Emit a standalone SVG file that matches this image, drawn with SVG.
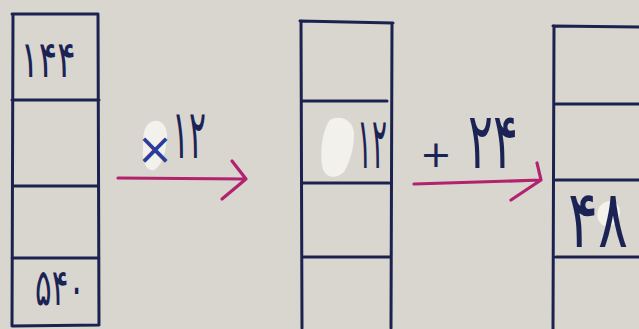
<svg xmlns="http://www.w3.org/2000/svg" width="639" height="329" viewBox="0 0 639 329">
<style>
.frame{fill:none;stroke:#1c2250;stroke-width:3;stroke-linecap:round;stroke-linejoin:round}
.arrow{fill:none;stroke:#b2226e;stroke-width:3.2;stroke-linecap:round;stroke-linejoin:round}
.num{font-family:"DejaVu Sans",sans-serif;fill:#1b2354;font-size:32px;text-anchor:middle}
.blob{fill:#f3f1ec}
</style>
<rect width="639" height="329" fill="#d8d6cf"/>
<g id="column-a">
  <path class="frame" d="M12,14 L98,14 M13,14 L12,326 M98,14 L99,325 M12,326 L99,325 M12,100 L99,100 M13,186 L98,186 M12,258 L99,258"/>
  <text class="num" transform="translate(48,77) scale(1,1.6)" textLength="55" lengthAdjust="spacingAndGlyphs">۱۴۴</text>
  <text class="num" transform="translate(60,305) scale(1,1.6)" textLength="50" lengthAdjust="spacingAndGlyphs">۵۴۰</text>
</g>
<g id="column-b">
  <path class="frame" d="M300,21 L393,23 M301,21 L302,328 M392,23 L391,328 M302,101 L387,101 M302,183 L389,183 M304,257 L390,257"/>
  <path class="blob" d="M330,120 C340,114 354,120 354,134 C354,148 350,162 344,172 C336,180 324,178 322,166 C320,152 322,130 330,120 Z"/>
  <text class="num" transform="translate(372,168) scale(1,2.25)" textLength="30" lengthAdjust="spacingAndGlyphs">۱۲</text>
</g>
<g id="column-c">
  <path class="frame" d="M553,26 L639,27 M554,26 L553,329 M556,104 L639,104 M556,180 L639,180 M556,257 L639,257"/>
  <path class="blob" d="M600,206 C606,198 620,200 620,212 C620,222 612,228 604,226 C596,222 596,212 600,206 Z"/>
  <text class="num" transform="translate(598,247) scale(1,2.5)" textLength="60" lengthAdjust="spacingAndGlyphs">۴۸</text>
</g>
<g id="connectors">
  <g id="arrow-1">
    <path class="arrow" d="M118,178 L246,179 M232,161 L246,179 L222,199"/>
    <path class="blob" d="M148,124 C158,116 168,124 167,138 C166,152 162,166 154,170 C146,172 142,160 143,148 C143,138 143,130 148,124 Z"/>
    <text x="155" y="164" font-family="DejaVu Sans,sans-serif" font-size="44" fill="#2b3c9a" text-anchor="middle">×</text>
    <text class="num" transform="translate(189,158) scale(1,2.15)" textLength="34" lengthAdjust="spacingAndGlyphs">۱۲</text>
  </g>
  <g id="arrow-2">
    <path class="arrow" d="M414,184 L541,180 M537,163 L541,180 L511,200"/>
    <text x="436" y="167" font-family="DejaVu Sans,sans-serif" font-size="38" fill="#1b2354" text-anchor="middle">+</text>
    <text class="num" transform="translate(493,168) scale(1,2.45)" textLength="50" lengthAdjust="spacingAndGlyphs">۲۴</text>
  </g>
</g>
</svg>
